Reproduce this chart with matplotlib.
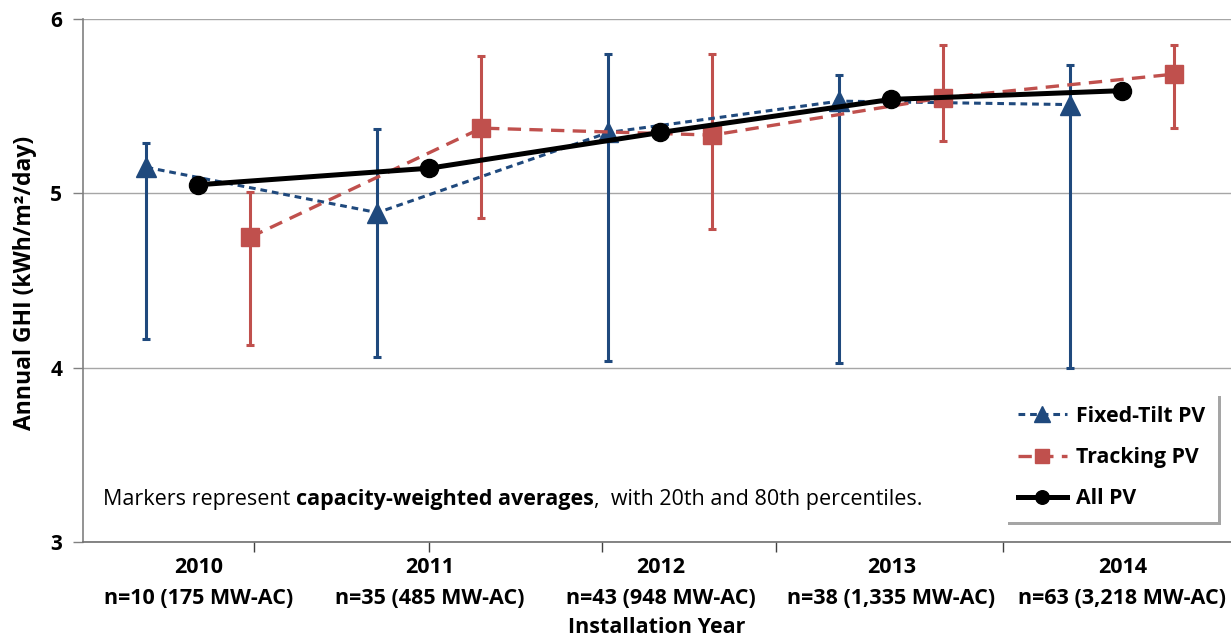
import matplotlib.pyplot as plt
import numpy as np

plt.rcParams['font.family'] = ['Open Sans', 'DejaVu Sans']

# data
years = ['2010', '2011', '2012', '2013', '2014']
counts = ['n=10 (175 MW-AC)', 'n=35 (485 MW-AC)', 'n=43 (948 MW-AC)',
          'n=38 (1,335 MW-AC)', 'n=63 (3,218 MW-AC)']

fixed_avg = [5.15, 4.89, 5.35, 5.53, 5.51]
fixed_p20 = [4.165, 4.06, 4.04, 4.03, 4.00]
fixed_p80 = [5.29, 5.37, 5.80, 5.68, 5.74]

track_avg = [4.75, 5.375, 5.335, 5.55, 5.685]
track_p20 = [4.13, 4.86, 4.795, 5.30, 5.375]
track_p80 = [5.01, 5.79, 5.80, 5.85, 5.85]

all_avg = [5.05, 5.145, 5.35, 5.54, 5.59]

blue = '#1F497D'
red = '#C0504D'

x = np.arange(len(years))
off = 0.225

fig = plt.figure(figsize=(12.31, 6.36), dpi=100)
ax = fig.add_axes([0.0674, 0.1478, 0.9326, 0.822])

def errs(avg, lo, hi):
    avg = np.array(avg); lo = np.array(lo); hi = np.array(hi)
    return [avg - lo, hi - avg]

ax.errorbar(x - off, fixed_avg, yerr=errs(fixed_avg, fixed_p20, fixed_p80),
            fmt='none', ecolor=blue, elinewidth=2.2, capsize=3, capthick=2.2, zorder=3)
ax.errorbar(x + off, track_avg, yerr=errs(track_avg, track_p20, track_p80),
            fmt='none', ecolor=red, elinewidth=2.2, capsize=3, capthick=2.2, zorder=3)

ax.plot(x - off, fixed_avg, color=blue, ls=(0, (2.2, 1.6)), lw=2.2, marker='^',
        ms=15, label='Fixed-Tilt PV', zorder=4)
ax.plot(x + off, track_avg, color=red, ls=(0, (4, 2.5)), lw=2.4, marker='s',
        ms=13, label='Tracking PV', zorder=4)
ax.plot(x, all_avg, color='black', lw=3.6, marker='o', ms=13,
        label='All PV', zorder=5)

ax.set_xlim(-0.5, 4.47)
ax.set_ylim(3, 6)
ax.set_yticks([3, 4, 5, 6])
ax.set_yticklabels(['3', '4', '5', '6'], fontsize=15, fontweight='bold')
ax.yaxis.grid(True, color='#A6A6A6', lw=1)
ax.set_axisbelow(True)

ax.set_xticks(x)
ax.set_xticklabels([y + '\n' + c for y, c in zip(years, counts)],
                   fontsize=15.5, fontweight='bold', linespacing=1.6)
ax.tick_params(axis='x', length=0, pad=11)
ax.set_xticks([0.242, 0.996, 1.745, 2.502, 3.485], minor=True)
ax.tick_params(axis='x', which='minor', length=7, color='#404040', width=1)
ax.tick_params(axis='y', length=7, color='#808080', width=1, pad=8)

for s in ['top', 'right']:
    ax.spines[s].set_visible(False)
ax.spines['left'].set_color('#808080')
ax.spines['bottom'].set_color('#707070')
ax.spines['left'].set_linewidth(1.2)
ax.spines['bottom'].set_linewidth(1.2)

ax.set_ylabel('Annual GHI (kWh/m²/day)', fontsize=16.5, fontweight='bold')
ax.yaxis.set_label_coords(-0.04, 0.495)
ax.set_xlabel('Installation Year', fontsize=15.5, fontweight='bold', labelpad=6)

leg = ax.legend(loc='upper right', bbox_to_anchor=(0.9887, 0.285),
                prop={'weight': 'bold', 'size': 15.3}, frameon=True, shadow=True,
                fancybox=False, handlelength=2.3, labelspacing=0.95,
                borderpad=0.6, edgecolor='white', borderaxespad=0,
                handletextpad=0.45, markerscale=0.75)
leg.get_frame().set_linewidth(0)

t1 = ax.text(0.0174, 0.071, 'Markers represent ', transform=ax.transAxes,
             fontsize=15.5, va='baseline')
t2 = ax.annotate('capacity-weighted averages', xy=(1, 0), xycoords=t1,
                 va='bottom', fontsize=15.5, fontweight='bold')
t3 = ax.annotate(',  with 20th and 80th percentiles.', xy=(1, 0), xycoords=t2,
                 va='bottom', fontsize=15.5)

fig.savefig('out.png', dpi=100)
